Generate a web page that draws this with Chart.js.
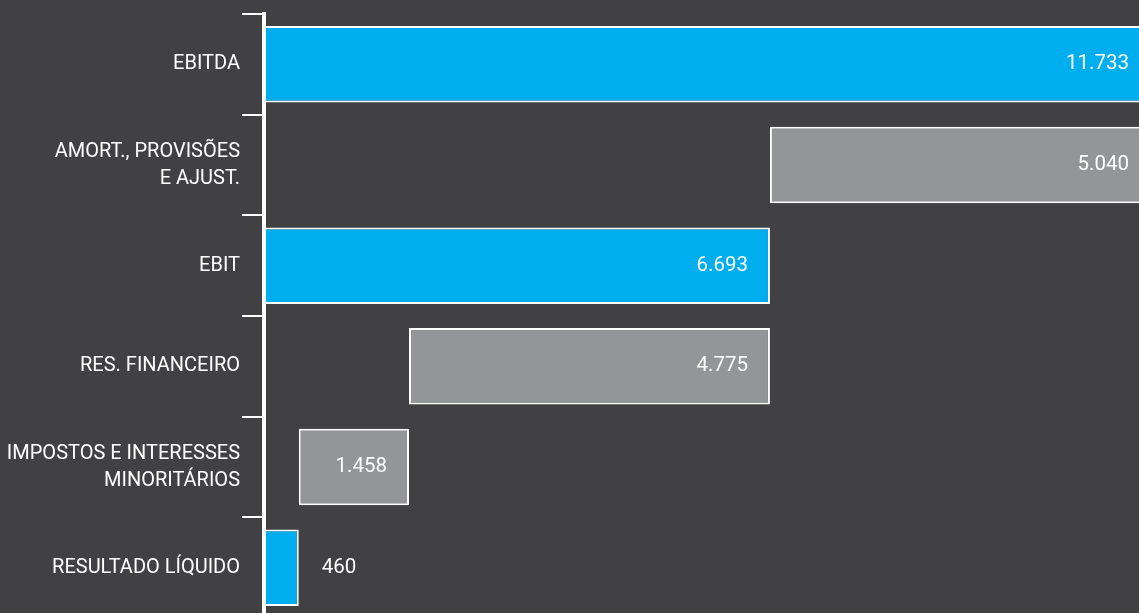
<!DOCTYPE html>
<html>
<head>
<meta charset="utf-8">
<script src="https://cdn.jsdelivr.net/npm/chart.js@4/dist/chart.umd.min.js"></script>
<style>
  html, body { margin: 0; padding: 0; background: #414042; overflow: hidden; }
  #chart { position: absolute; left: 0; top: 0; }
</style>
</head>
<body>
<canvas id="chart" width="1139" height="618"></canvas>
<script>
const categories = [
  'EBITDA',
  ['AMORT., PROVISÕES', 'E AJUST.'],
  'EBIT',
  'RES. FINANCEIRO',
  ['IMPOSTOS E INTERESSES', 'MINORITÁRIOS'],
  'RESULTADO LÍQUIDO'
];
// positive = total bar from zero, negative = deduction from previous total
const values = [11733, -5040, 6693, -4775, -1458, 460];
const isTotal = [true, false, true, false, false, true];

const BLUE = '#00aeef';
const GREY = '#939598';
const FONT = 'Roboto, "DejaVu Sans", sans-serif';

// build floating bars for the waterfall
let running = 0;
const bars = values.map((v, i) => {
  if (isTotal[i]) {
    running = v;
    return [0, v];
  }
  const start = running;
  running = running + v;
  return [running, start];
});

function fmt(n) {
  return Math.abs(n).toString().replace(/\B(?=(\d{3})+(?!\d))/g, '.');
}

const valueLabels = {
  id: 'valueLabels',
  afterDatasetsDraw(chart) {
    const ctx = chart.ctx;
    const meta = chart.getDatasetMeta(0);
    ctx.save();
    ctx.fillStyle = '#ffffff';
    ctx.font = '20.5px ' + FONT;
    ctx.textBaseline = 'middle';
    meta.data.forEach((bar, i) => {
      const right = Math.max(bar.x, bar.base);
      const text = fmt(values[i]);
      if (i === values.length - 1) {
        ctx.textAlign = 'left';
        ctx.fillText(text, right + 23, bar.y);
      } else {
        ctx.textAlign = 'right';
        ctx.fillText(text, Math.min(right, 1151) - 22, bar.y);
      }
    });
    ctx.restore();
  }
};

new Chart(document.getElementById('chart'), {
  type: 'bar',
  data: {
    labels: categories,
    datasets: [{
      data: bars,
      backgroundColor: isTotal.map(t => t ? BLUE : GREY),
      borderColor: '#ffffff',
      borderWidth: 2,
      borderSkipped: false,
      categoryPercentage: 1,
      barPercentage: 0.76
    }]
  },
  options: {
    indexAxis: 'y',
    responsive: false,
    animation: false,
    layout: { padding: { top: 14, right: 0, bottom: 0, left: 0 } },
    plugins: {
      legend: { display: false },
      tooltip: { enabled: false }
    },
    scales: {
      x: {
        display: false,
        min: 0,
        max: 11575
      },
      y: {
        afterFit: scale => {
          scale.width = 264;
          scale.paddingTop = 0;
          scale.paddingBottom = 0;
        },
        border: { display: true, color: '#ffffff', width: 4 },
        grid: {
          color: '#ffffff',
          lineWidth: 2,
          drawOnChartArea: false,
          drawTicks: true,
          tickLength: 22
        },
        ticks: {
          color: '#ffffff',
          padding: 2,
          font: { family: FONT, size: 20, lineHeight: 1.35 }
        }
      }
    }
  },
  plugins: [valueLabels]
});
</script>
</body>
</html>
